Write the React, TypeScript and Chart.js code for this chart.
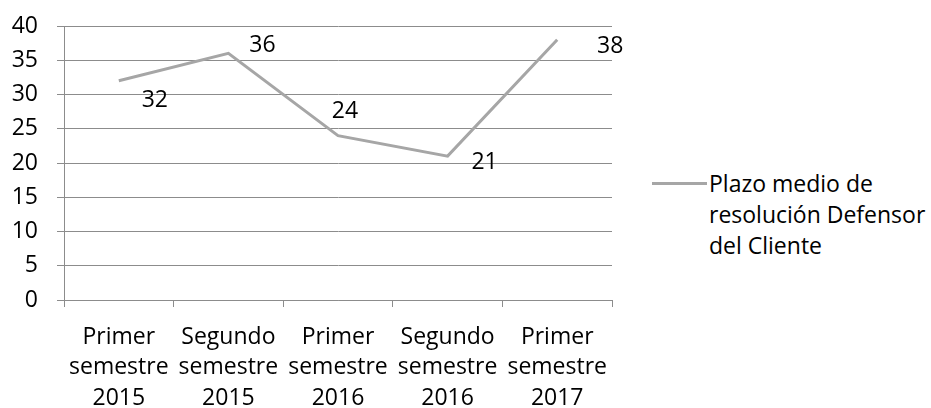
import React, { useEffect, useRef } from "react";
import { Chart, registerables } from "chart.js";

Chart.register(...registerables);

const categories: string[][] = [
  ["Primer", "semestre", "2015"],
  ["Segundo", "semestre", "2015"],
  ["Primer", "semestre", "2016"],
  ["Segundo", "semestre", "2016"],
  ["Primer", "semestre", "2017"],
];
const seriesName = "Plazo medio de resolución Defensor del Cliente";
const legendLines = ["Plazo medio de", "resolución Defensor", "del Cliente"];
const values = [32, 36, 24, 21, 38];
const yTicks = [0, 5, 10, 15, 20, 25, 30, 35, 40];

const FONT = "'Open Sans', sans-serif";
const FONT_SIZE = 23;
const LINE_COLOR = "#A6A6A6";
const GRID_COLOR = "#8C8C8C";

// label offsets (dx, dy) from point, style config
const labelOffsets = [
  [36, 20],
  [34, -8],
  [7, -24],
  [37, 6],
  [53, 7],
];

const labelPlugin = {
  id: "pointLabels",
  afterDatasetsDraw(chart: any) {
    const ctx = chart.ctx;
    const meta = chart.getDatasetMeta(0);
    ctx.save();
    ctx.font = `${FONT_SIZE}px ${FONT}`;
    ctx.fillStyle = "#000";
    ctx.textAlign = "center";
    ctx.textBaseline = "middle";
    meta.data.forEach((pt: any, i: number) => {
      const [dx, dy] = labelOffsets[i];
      ctx.fillText(String(values[i]), pt.x + dx, pt.y + dy);
    });
    ctx.restore();
  },
};

export default function App() {
  const ref = useRef<HTMLCanvasElement>(null);
  useEffect(() => {
    if (!ref.current) return;
    const chart = new Chart(ref.current, {
      type: "line",
      data: {
        labels: categories,
        datasets: [
          {
            label: seriesName,
            data: values,
            borderColor: LINE_COLOR,
            backgroundColor: LINE_COLOR,
            borderWidth: 3,
            pointRadius: 0,
            tension: 0,
          },
        ],
      },
      options: {
        responsive: false,
        animation: false,
        layout: { padding: { top: 26, right: 28, left: 0, bottom: 0 } },
        plugins: {
          legend: { display: false },
          tooltip: { enabled: false },
        },
        scales: {
          x: {
            type: "category",
            offset: true,
            grid: {
              offset: true,
              drawOnChartArea: false,
              drawTicks: true,
              tickLength: 7,
              color: GRID_COLOR,
            },
            border: { display: true, color: GRID_COLOR, width: 1 },
            ticks: {
              color: "#000",
              font: { family: FONT, size: FONT_SIZE, lineHeight: 30.5 / FONT_SIZE },
              maxRotation: 0,
              autoSkip: false,
              padding: 15,
            },
            afterFit(scale: any) {
              scale.height = 108;
              scale.paddingLeft = 0;
              scale.paddingRight = 0;
            },
          },
          y: {
            min: 0,
            max: 40,
            afterBuildTicks(scale: any) {
              scale.ticks = yTicks.map((v) => ({ value: v }));
            },
            grid: {
              color: GRID_COLOR,
              tickLength: 7,
              drawTicks: true,
            },
            border: { display: true, color: GRID_COLOR, width: 1 },
            ticks: {
              color: "#000",
              font: { family: FONT, size: FONT_SIZE },
              padding: 19,
            },
            afterFit(scale: any) {
              scale.width = 64;
              scale.paddingTop = 0;
              scale.paddingBottom = 0;
            },
          },
        },
      },
      plugins: [labelPlugin],
    } as any);
    return () => chart.destroy();
  }, []);

  return (
    <div style={{ position: "absolute", left: 0, top: 0, width: 931, height: 408, background: "#fff", overflow: "hidden" }}>
      <canvas ref={ref} width={640} height={408} style={{ position: "absolute", left: 0, top: 0 }} />
      <div style={{ position: "absolute", left: 652, top: 168, fontFamily: FONT, fontSize: FONT_SIZE, lineHeight: "31px", color: "#000" }}>
        <div style={{ position: "absolute", left: 0, top: 14, width: 55, height: 3, background: LINE_COLOR }} />
        <div style={{ position: "absolute", left: 57, top: 0, whiteSpace: "nowrap" }}>
          {legendLines.map((l, i) => (
            <div key={i}>{l}</div>
          ))}
        </div>
      </div>
    </div>
  );
}
